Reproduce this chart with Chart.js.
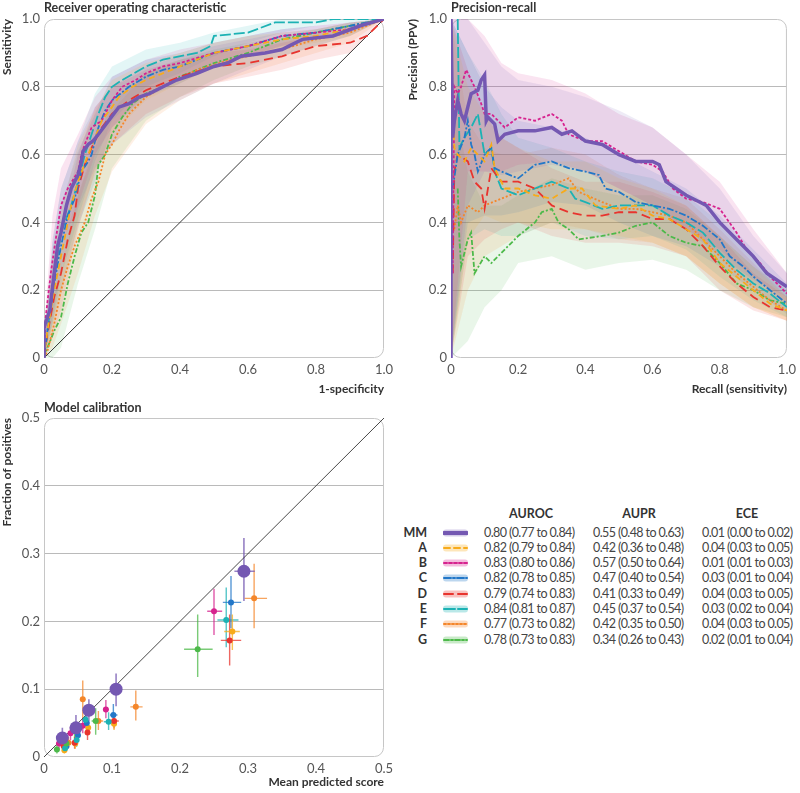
<!DOCTYPE html>
<html lang="en">
<head>
<meta charset="UTF-8">
<title>Model performance</title>
<script src="https://cdn.jsdelivr.net/npm/chart.js"></script>
<style>
  * { margin: 0; padding: 0; box-sizing: border-box; }
  body {
    width: 800px; height: 793px; position: relative; overflow: hidden;
    background: #fff; color: #333; font-family: Lato, 'Open Sans', sans-serif;
  }
  .panel { position: absolute; }
  #legend { position: absolute; left: 400px; top: 500px; width: 400px; height: 160px; }
  .hdr { position: absolute; top: 6px; width: 100px; margin-left: -50px; text-align: center; font-weight: 700; font-size: 12.5px; color: #333; }
  .row { position: absolute; left: 0; width: 400px; height: 15px; font-size: 12.5px; line-height: 15px; white-space: nowrap; }
  .row .lab { position: absolute; left: 0; width: 27px; text-align: right; font-weight: 700; }
  .row svg { position: absolute; left: 43px; top: 4px; }
  .row .val { position: absolute; letter-spacing: -0.6px; color: #444; }
</style>
</head>
<body>
  <canvas class="panel" id="roc" width="400" height="400" style="left:0;top:0"></canvas>
  <canvas class="panel" id="pr" width="400" height="400" style="left:400px;top:0"></canvas>
  <canvas class="panel" id="cal" width="400" height="393" style="left:0;top:400px"></canvas>
  <div id="legend"></div>

<script>
const MODELS = ['MM', 'A', 'B', 'C', 'D', 'E', 'F', 'G'];
const COLORS = { MM: '#7458b2', A: '#f7ab1b', B: '#d6228e', C: '#2277c8', D: '#e8342e', E: '#1cb2b4', F: '#f4862a', G: '#4db94a' };
const DASH = { MM: [], A: [6, 4], B: [3, 2], C: [7, 2, 2, 2], D: [9, 5], E: [11, 3], F: [2, 2], G: [5, 2, 2, 2] };

// legend table text
const aurocText = ['0.80 (0.77 to 0.84)', '0.82 (0.79 to 0.84)', '0.83 (0.80 to 0.86)', '0.82 (0.78 to 0.85)', '0.79 (0.74 to 0.83)', '0.84 (0.81 to 0.87)', '0.77 (0.73 to 0.82)', '0.78 (0.73 to 0.83)'];
const auprText = ['0.55 (0.48 to 0.63)', '0.42 (0.36 to 0.48)', '0.57 (0.50 to 0.64)', '0.47 (0.40 to 0.54)', '0.41 (0.33 to 0.49)', '0.45 (0.37 to 0.54)', '0.42 (0.35 to 0.50)', '0.34 (0.26 to 0.43)'];
const eceText = ['0.01 (0.00 to 0.02)', '0.04 (0.03 to 0.05)', '0.01 (0.01 to 0.03)', '0.03 (0.01 to 0.04)', '0.04 (0.03 to 0.05)', '0.03 (0.02 to 0.04)', '0.04 (0.03 to 0.05)', '0.02 (0.01 to 0.04)'];

const unitTicks = [0, 0.2, 0.4, 0.6, 0.8, 1.0];
const calTicks = [0, 0.1, 0.2, 0.3, 0.4, 0.5];

// ROC curves: [1-specificity, sensitivity]
const rocCurve = {
  MM: [[0,0],[0,0.09],[0.01,0.12],[0.017,0.14],[0.03,0.25],[0.04,0.33],[0.05,0.37],[0.066,0.45],[0.08,0.5],[0.1,0.54],[0.11,0.58],[0.115,0.61],[0.13,0.63],[0.144,0.64],[0.16,0.66],[0.19,0.7],[0.22,0.74],[0.25,0.75],[0.28,0.77],[0.31,0.78],[0.35,0.8],[0.39,0.82],[0.45,0.84],[0.5,0.86],[0.54,0.87],[0.58,0.89],[0.65,0.9],[0.7,0.91],[0.72,0.92],[0.76,0.94],[0.85,0.95],[0.93,0.98],[1,1]],
  A: [[0,0],[0.01,0.08],[0.03,0.2],[0.05,0.3],[0.07,0.4],[0.08,0.45],[0.1,0.52],[0.13,0.6],[0.15,0.65],[0.17,0.7],[0.2,0.74],[0.22,0.77],[0.26,0.8],[0.3,0.82],[0.35,0.84],[0.4,0.86],[0.45,0.88],[0.5,0.9],[0.6,0.92],[0.7,0.94],[0.8,0.95],[0.9,0.97],[1,1]],
  B: [[0,0],[0.005,0.12],[0.02,0.25],[0.03,0.32],[0.05,0.45],[0.07,0.5],[0.1,0.55],[0.11,0.6],[0.12,0.63],[0.14,0.68],[0.17,0.7],[0.2,0.76],[0.23,0.8],[0.27,0.82],[0.3,0.84],[0.35,0.86],[0.4,0.87],[0.5,0.9],[0.6,0.92],[0.7,0.95],[0.8,0.96],[0.9,0.97],[1,1]],
  C: [[0,0],[0.01,0.08],[0.03,0.22],[0.05,0.33],[0.07,0.42],[0.09,0.47],[0.11,0.55],[0.13,0.58],[0.14,0.6],[0.16,0.68],[0.18,0.73],[0.2,0.76],[0.25,0.8],[0.3,0.83],[0.35,0.85],[0.4,0.86],[0.5,0.9],[0.6,0.92],[0.7,0.95],[0.8,0.96],[0.9,0.98],[1,1]],
  D: [[0,0],[0.01,0.07],[0.03,0.18],[0.05,0.25],[0.07,0.35],[0.09,0.42],[0.1,0.5],[0.12,0.57],[0.14,0.62],[0.17,0.68],[0.2,0.72],[0.25,0.76],[0.3,0.79],[0.35,0.81],[0.4,0.83],[0.5,0.86],[0.6,0.87],[0.7,0.89],[0.8,0.92],[0.9,0.93],[0.95,0.95],[1,1]],
  E: [[0,0],[0.01,0.08],[0.03,0.23],[0.05,0.37],[0.08,0.45],[0.1,0.52],[0.12,0.6],[0.14,0.66],[0.16,0.72],[0.18,0.77],[0.2,0.8],[0.23,0.82],[0.3,0.86],[0.35,0.88],[0.45,0.9],[0.49,0.92],[0.5,0.95],[0.6,0.96],[0.68,0.99],[0.8,0.99],[0.85,1],[1,1]],
  F: [[0,0],[0.01,0.02],[0.03,0.1],[0.05,0.2],[0.07,0.27],[0.09,0.33],[0.12,0.4],[0.14,0.47],[0.16,0.52],[0.18,0.6],[0.2,0.63],[0.22,0.67],[0.25,0.72],[0.3,0.77],[0.35,0.8],[0.45,0.85],[0.55,0.88],[0.7,0.91],[0.8,0.94],[0.9,0.96],[1,1]],
  G: [[0,0],[0.01,0.03],[0.03,0.08],[0.05,0.12],[0.07,0.22],[0.09,0.3],[0.11,0.37],[0.13,0.4],[0.15,0.48],[0.16,0.57],[0.18,0.6],[0.2,0.66],[0.23,0.71],[0.26,0.75],[0.3,0.78],[0.35,0.8],[0.4,0.83],[0.5,0.87],[0.6,0.9],[0.7,0.94],[0.8,0.96],[0.9,0.98],[1,1]]
};

// ROC confidence bands, sampled at rocGrid
const rocGrid = [0, 0.025, 0.05, 0.1, 0.15, 0.2, 0.3, 0.4, 0.5, 0.6, 0.7, 0.8, 0.9, 1];
const rocLower = {
  MM: [0,0.12,0.26,0.44,0.56,0.63,0.71,0.76,0.81,0.85,0.89,0.92,0.95,1],
  A: [0,0.08,0.18,0.4,0.54,0.66,0.76,0.81,0.86,0.89,0.91,0.93,0.95,1],
  B: [0,0.18,0.33,0.45,0.6,0.68,0.78,0.83,0.86,0.89,0.92,0.94,0.96,1],
  C: [0,0.1,0.2,0.39,0.52,0.68,0.77,0.81,0.86,0.89,0.92,0.94,0.96,1],
  D: [0,0.06,0.14,0.38,0.55,0.63,0.72,0.77,0.81,0.83,0.85,0.88,0.9,1],
  E: [0,0.1,0.24,0.41,0.58,0.7,0.8,0.84,0.89,0.93,0.96,0.98,0.99,1],
  F: [0,0.03,0.1,0.25,0.42,0.55,0.69,0.76,0.81,0.84,0.87,0.9,0.93,1],
  G: [0,0,0.03,0.22,0.38,0.56,0.7,0.77,0.82,0.86,0.89,0.92,0.95,1]
};
const rocUpper = {
  MM: [0.05,0.35,0.5,0.64,0.74,0.8,0.86,0.89,0.92,0.94,0.96,0.97,0.99,1],
  A: [0.05,0.3,0.43,0.63,0.73,0.82,0.87,0.9,0.93,0.95,0.96,0.97,0.99,1],
  B: [0.08,0.42,0.56,0.66,0.77,0.83,0.88,0.91,0.93,0.95,0.97,0.98,0.99,1],
  C: [0.05,0.32,0.45,0.61,0.72,0.83,0.88,0.9,0.93,0.95,0.97,0.98,0.99,1],
  D: [0.05,0.27,0.38,0.6,0.74,0.8,0.85,0.88,0.9,0.91,0.93,0.95,0.96,1],
  E: [0.06,0.34,0.5,0.64,0.78,0.86,0.91,0.93,0.96,0.98,1,1,1,1],
  F: [0.04,0.2,0.32,0.48,0.64,0.73,0.84,0.87,0.9,0.92,0.94,0.96,0.98,1],
  G: [0.03,0.17,0.25,0.48,0.62,0.76,0.84,0.88,0.91,0.93,0.95,0.97,0.99,1]
};

// precision-recall curves: [recall, precision]
const prCurve = {
  MM: [[0,0],[0,1],[0.005,0.65],[0.01,0.7],[0.02,0.76],[0.03,0.72],[0.04,0.7],[0.05,0.74],[0.06,0.78],[0.08,0.79],[0.09,0.82],[0.1,0.835],[0.105,0.7],[0.11,0.71],[0.13,0.69],[0.14,0.64],[0.16,0.66],[0.2,0.67],[0.25,0.67],[0.3,0.68],[0.33,0.66],[0.36,0.67],[0.4,0.64],[0.45,0.63],[0.5,0.6],[0.55,0.58],[0.6,0.58],[0.62,0.57],[0.64,0.52],[0.7,0.48],[0.74,0.46],[0.76,0.45],[0.8,0.4],[0.84,0.36],[0.88,0.32],[0.9,0.3],[0.94,0.25],[0.97,0.23],[1,0.21]],
  A: [[0.005,0.75],[0.01,0.62],[0.02,0.6],[0.04,0.58],[0.06,0.62],[0.08,0.6],[0.1,0.58],[0.12,0.63],[0.13,0.56],[0.16,0.5],[0.2,0.5],[0.25,0.48],[0.3,0.47],[0.35,0.5],[0.39,0.5],[0.43,0.45],[0.5,0.44],[0.55,0.45],[0.6,0.42],[0.65,0.41],[0.7,0.38],[0.75,0.35],[0.8,0.28],[0.85,0.24],[0.9,0.2],[0.95,0.16],[1,0.14]],
  B: [[0.005,0.25],[0.01,0.8],[0.02,0.78],[0.03,0.8],[0.045,0.85],[0.06,0.82],[0.07,0.8],[0.09,0.75],[0.1,0.72],[0.12,0.72],[0.14,0.7],[0.16,0.68],[0.2,0.71],[0.25,0.7],[0.3,0.72],[0.33,0.7],[0.35,0.66],[0.4,0.64],[0.45,0.64],[0.5,0.61],[0.55,0.58],[0.6,0.57],[0.63,0.55],[0.66,0.5],[0.7,0.47],[0.75,0.46],[0.8,0.44],[0.85,0.37],[0.88,0.32],[0.92,0.28],[0.95,0.24],[1,0.19]],
  C: [[0.005,0.5],[0.02,0.6],[0.04,0.65],[0.05,0.7],[0.06,0.63],[0.07,0.6],[0.08,0.55],[0.1,0.6],[0.12,0.62],[0.13,0.56],[0.15,0.55],[0.2,0.53],[0.25,0.57],[0.3,0.58],[0.35,0.56],[0.4,0.55],[0.44,0.54],[0.46,0.5],[0.5,0.49],[0.55,0.46],[0.6,0.45],[0.65,0.44],[0.7,0.42],[0.75,0.39],[0.8,0.35],[0.83,0.3],[0.87,0.27],[0.9,0.24],[0.95,0.2],[1,0.16]],
  D: [[0.005,0.25],[0.01,0.55],[0.02,0.6],[0.05,0.58],[0.07,0.52],[0.09,0.5],[0.1,0.44],[0.12,0.56],[0.15,0.52],[0.2,0.52],[0.25,0.5],[0.3,0.45],[0.35,0.43],[0.4,0.42],[0.45,0.42],[0.5,0.43],[0.55,0.43],[0.6,0.41],[0.65,0.41],[0.7,0.38],[0.75,0.33],[0.8,0.27],[0.85,0.22],[0.9,0.18],[0.95,0.15],[1,0.14]],
  E: [[0.02,1],[0.025,0.62],[0.04,0.65],[0.06,0.68],[0.08,0.72],[0.09,0.66],[0.1,0.6],[0.12,0.62],[0.13,0.55],[0.15,0.5],[0.2,0.48],[0.25,0.5],[0.3,0.52],[0.35,0.5],[0.37,0.47],[0.4,0.46],[0.45,0.44],[0.5,0.45],[0.55,0.45],[0.6,0.45],[0.65,0.42],[0.7,0.4],[0.75,0.37],[0.8,0.31],[0.85,0.26],[0.9,0.22],[0.95,0.19],[1,0.15]],
  F: [[0.01,0.38],[0.02,0.45],[0.03,0.4],[0.05,0.45],[0.08,0.43],[0.1,0.45],[0.15,0.47],[0.2,0.49],[0.25,0.5],[0.3,0.51],[0.35,0.53],[0.38,0.49],[0.45,0.46],[0.5,0.44],[0.55,0.44],[0.6,0.43],[0.65,0.42],[0.7,0.4],[0.75,0.35],[0.8,0.3],[0.85,0.25],[0.9,0.21],[0.95,0.17],[1,0.14]],
  G: [[0.02,0.5],[0.025,0.35],[0.03,0.27],[0.05,0.35],[0.06,0.37],[0.07,0.25],[0.1,0.3],[0.12,0.28],[0.15,0.31],[0.2,0.36],[0.25,0.4],[0.27,0.43],[0.3,0.44],[0.32,0.4],[0.35,0.38],[0.38,0.35],[0.45,0.36],[0.5,0.37],[0.55,0.39],[0.6,0.4],[0.65,0.36],[0.7,0.34],[0.75,0.33],[0.8,0.28],[0.85,0.22],[0.9,0.2],[0.95,0.17],[1,0.16]]
};

// precision-recall bands, sampled at prGrid
const prGrid = [0, 0.05, 0.1, 0.15, 0.2, 0.3, 0.4, 0.5, 0.6, 0.7, 0.8, 0.9, 1];
const prLower = {
  MM: [0,0.45,0.55,0.54,0.55,0.57,0.55,0.5,0.45,0.38,0.3,0.23,0.18],
  A: [0,0.35,0.42,0.4,0.4,0.38,0.38,0.36,0.34,0.3,0.22,0.15,0.11],
  B: [0,0.55,0.55,0.55,0.57,0.58,0.55,0.5,0.45,0.38,0.32,0.24,0.16],
  C: [0,0.4,0.42,0.42,0.43,0.46,0.45,0.4,0.36,0.33,0.27,0.2,0.13],
  D: [0,0.3,0.35,0.38,0.4,0.36,0.34,0.34,0.33,0.3,0.2,0.14,0.11],
  E: [0,0.35,0.38,0.36,0.36,0.4,0.36,0.35,0.36,0.32,0.24,0.17,0.12],
  F: [0,0.2,0.3,0.33,0.36,0.4,0.38,0.35,0.34,0.3,0.22,0.15,0.11],
  G: [0,0.05,0.15,0.2,0.28,0.3,0.26,0.28,0.29,0.26,0.2,0.15,0.12]
};
const prUpper = {
  MM: [1,1,0.93,0.86,0.82,0.8,0.77,0.73,0.68,0.6,0.5,0.36,0.25],
  A: [1,0.8,0.72,0.65,0.62,0.58,0.58,0.53,0.5,0.45,0.36,0.27,0.18],
  B: [1,1,0.95,0.87,0.84,0.82,0.78,0.72,0.68,0.6,0.52,0.38,0.25],
  C: [1,0.9,0.8,0.74,0.7,0.68,0.65,0.6,0.55,0.5,0.42,0.32,0.22],
  D: [1,0.85,0.72,0.65,0.62,0.56,0.52,0.52,0.49,0.45,0.36,0.25,0.18],
  E: [1,0.9,0.82,0.72,0.65,0.62,0.58,0.55,0.53,0.48,0.4,0.3,0.2],
  F: [1,0.7,0.62,0.6,0.6,0.62,0.6,0.54,0.5,0.47,0.38,0.28,0.18],
  G: [0.8,0.55,0.45,0.45,0.48,0.53,0.5,0.48,0.48,0.44,0.36,0.27,0.2]
};

// calibration bins: [mean score, fraction positive, x low, x high, y low, y high]
const calBins = {
  MM: [[0.027,0.028,0.022,0.032,0.016,0.043],[0.047,0.043,0.042,0.052,0.028,0.062],[0.066,0.069,0.06,0.072,0.053,0.085],[0.106,0.1,0.1,0.113,0.075,0.123],[0.294,0.274,0.28,0.31,0.23,0.323]],
  A: [[0.03,0.01,0.027,0.033,0.005,0.017],[0.046,0.02,0.043,0.049,0.012,0.028],[0.065,0.043,0.062,0.068,0.033,0.053],[0.103,0.049,0.099,0.107,0.04,0.058],[0.277,0.185,0.265,0.288,0.158,0.21]],
  B: [[0.022,0.02,0.019,0.025,0.012,0.03],[0.039,0.035,0.036,0.042,0.025,0.045],[0.057,0.046,0.054,0.06,0.035,0.058],[0.091,0.07,0.088,0.095,0.057,0.084],[0.25,0.215,0.24,0.262,0.18,0.248]],
  C: [[0.033,0.016,0.03,0.036,0.008,0.025],[0.05,0.032,0.047,0.053,0.022,0.042],[0.063,0.05,0.06,0.066,0.04,0.062],[0.102,0.062,0.097,0.108,0.048,0.078],[0.275,0.228,0.263,0.29,0.19,0.267]],
  D: [[0.029,0.016,0.026,0.032,0.009,0.024],[0.045,0.021,0.042,0.048,0.012,0.03],[0.064,0.036,0.061,0.067,0.025,0.048],[0.103,0.053,0.097,0.11,0.042,0.064],[0.273,0.172,0.26,0.29,0.135,0.21]],
  E: [[0.031,0.013,0.028,0.034,0.006,0.02],[0.048,0.025,0.045,0.051,0.015,0.035],[0.061,0.055,0.058,0.064,0.045,0.066],[0.095,0.052,0.088,0.102,0.04,0.066],[0.268,0.202,0.255,0.286,0.162,0.25]],
  F: [[0.036,0.021,0.032,0.04,0.013,0.03],[0.057,0.085,0.054,0.06,0.055,0.113],[0.08,0.053,0.074,0.087,0.04,0.068],[0.135,0.074,0.127,0.145,0.054,0.098],[0.309,0.234,0.295,0.328,0.19,0.285]],
  G: [[0.019,0.011,0.016,0.022,0.005,0.018],[0.033,0.02,0.03,0.036,0.012,0.03],[0.045,0.04,0.042,0.048,0.028,0.052],[0.076,0.053,0.07,0.083,0.033,0.072],[0.226,0.159,0.206,0.248,0.118,0.21]]
};

Chart.defaults.font.family = 'Lato, "Open Sans", sans-serif';
Chart.defaults.color = '#4a4a4a';

function rgba(hex, a) {
  const n = parseInt(hex.slice(1), 16);
  return `rgba(${n >> 16},${(n >> 8) & 255},${n & 255},${a})`;
}
const pts = arr => arr.map(([x, y]) => ({ x, y }));

// rounded frame round the plot area
const framePlugin = {
  id: 'frame',
  beforeDatasetsDraw(chart) {
    const { ctx, chartArea: a } = chart;
    ctx.save();
    ctx.strokeStyle = '#c6c6c6';
    ctx.lineWidth = 1;
    ctx.beginPath();
    ctx.roundRect(a.left + 0.5, a.top + 0.5, a.width - 1, a.height - 1, 9);
    ctx.stroke();
    ctx.restore();
  }
};

// crosshair error bars for the calibration bins
const errorBarPlugin = {
  id: 'errorBars',
  beforeDatasetsDraw(chart) {
    const { ctx, scales: { x, y } } = chart;
    ctx.save();
    chart.data.datasets.forEach(ds => {
      if (!ds.errorBars) return;
      ctx.strokeStyle = rgba(ds.baseColor, 0.75);
      ctx.lineWidth = ds.barWidth;
      ds.errorBars.forEach(([cx, cy, xlo, xhi, ylo, yhi]) => {
        ctx.beginPath();
        ctx.moveTo(x.getPixelForValue(xlo), y.getPixelForValue(cy));
        ctx.lineTo(x.getPixelForValue(xhi), y.getPixelForValue(cy));
        ctx.moveTo(x.getPixelForValue(cx), y.getPixelForValue(ylo));
        ctx.lineTo(x.getPixelForValue(cx), y.getPixelForValue(yhi));
        ctx.stroke();
      });
    });
    ctx.restore();
  }
};

function scales(ticks, xTitle, yTitle, yWidth, xHeight, yTitlePad) {
  const max = ticks[ticks.length - 1];
  const fmt = v => (v === 0 ? '0' : v.toFixed(1));
  const tickFont = { size: 13 };
  const titleFont = { size: 12, weight: '700' };
  return {
    x: {
      type: 'linear', min: 0, max: max,
      afterBuildTicks: s => { s.ticks = ticks.map(v => ({ value: v })); },
      afterFit: s => { s.height = xHeight; },
      grid: { display: false, drawTicks: false },
      border: { display: false },
      ticks: { font: tickFont, padding: 4, maxRotation: 0, callback: fmt, color: '#555' },
      title: { display: true, text: xTitle, align: 'end', font: titleFont, color: '#333', padding: { top: 0, bottom: 4 } }
    },
    y: {
      type: 'linear', min: 0, max: max,
      afterBuildTicks: s => { s.ticks = ticks.map(v => ({ value: v })); },
      afterFit: s => { s.width = yWidth; },
      grid: {
        drawTicks: false, lineWidth: 1,
        color: c => (c.tick && (c.tick.value === 0 || c.tick.value === max) ? 'rgba(0,0,0,0)' : '#bababa')
      },
      border: { display: false },
      ticks: { font: tickFont, padding: 4, callback: fmt, color: '#555' },
      title: { display: true, text: yTitle, align: 'end', font: titleFont, color: '#333', padding: { top: yTitlePad, bottom: 0 } }
    }
  };
}

function curveDatasets(curves, grid, lower, upper) {
  const ds = [];
  MODELS.forEach(m => {
    const lowIndex = ds.length;
    ds.push({ data: grid.map((x, k) => ({ x, y: lower[m][k] })), borderWidth: 0, pointRadius: 0, fill: false, order: 20 });
    ds.push({ data: grid.map((x, k) => ({ x, y: upper[m][k] })), borderWidth: 0, pointRadius: 0,
      fill: lowIndex, backgroundColor: rgba(COLORS[m], 0.12), order: 20 });
  });
  MODELS.forEach(m => {
    ds.push({
      data: pts(curves[m]), borderColor: COLORS[m], borderWidth: m === 'MM' ? 3.5 : 1.8,
      borderDash: DASH[m], pointRadius: 0, fill: false, order: m === 'MM' ? 0 : 5
    });
  });
  return ds;
}

function lineChart(id, title, curves, grid, lower, upper, xTitle, yTitle, yWidth, rightPad, yTitlePad, diagonal) {
  const datasets = curveDatasets(curves, grid, lower, upper);
  if (diagonal) {
    datasets.push({ data: pts(diagonal), borderColor: '#222', borderWidth: 0.9, pointRadius: 0, fill: false, order: 10 });
  }
  return new Chart(document.getElementById(id), {
    type: 'line',
    data: { datasets },
    options: {
      responsive: false, animation: false, events: [],
      layout: { padding: { left: 0, right: rightPad, top: 0, bottom: 0 } },
      plugins: {
        legend: { display: false }, tooltip: { enabled: false },
        title: { display: true, text: title, align: 'start', fullSize: false, color: '#333',
          font: { size: 12.5, weight: '700' }, padding: { top: 0, bottom: 4 } }
      },
      scales: scales(unitTicks, xTitle, yTitle, yWidth, 42, yTitlePad)
    },
    plugins: [framePlugin]
  });
}

lineChart('roc', 'Receiver operating characteristic', rocCurve, rocGrid, rocLower, rocUpper,
  '1-specificity', 'Sensitivity', 44, 16, 0, [[0, 0], [1, 1]]);
lineChart('pr', 'Precision-recall', prCurve, prGrid, prLower, prUpper,
  'Recall (sensitivity)', 'Precision (PPV)', 51, 10, 6, null);

// calibration
const calSets = MODELS.slice().reverse().map(m => ({
  data: calBins[m].map(([x, y]) => ({ x, y })),
  errorBars: calBins[m], baseColor: COLORS[m], barWidth: m === 'MM' ? 1.6 : 1.4,
  backgroundColor: COLORS[m], borderWidth: 0,
  pointRadius: m === 'MM' ? 6.5 : 3, order: m === 'MM' ? 0 : 5
}));
calSets.push({ data: pts([[0, 0], [0.5, 0.5]]), showLine: true, borderColor: '#333', borderWidth: 0.9, pointRadius: 0, order: 10 });

new Chart(document.getElementById('cal'), {
  type: 'scatter',
  data: { datasets: calSets },
  options: {
    responsive: false, animation: false, events: [],
    layout: { padding: { left: 0, right: 16, top: 0, bottom: 0 } },
    plugins: {
      legend: { display: false }, tooltip: { enabled: false },
      title: { display: true, text: 'Model calibration', align: 'start', fullSize: false, color: '#333',
        font: { size: 12.5, weight: '700' }, padding: { top: 0, bottom: 3 } }
    },
    scales: scales(calTicks, 'Mean predicted score', 'Fraction of positives', 44, 36, 0)
  },
  plugins: [framePlugin, errorBarPlugin]
});

// legend table
const legend = document.getElementById('legend');
[['AUROC', 131], ['AUPR', 239], ['ECE', 347]].forEach(([t, cx]) => {
  const h = document.createElement('div');
  h.className = 'hdr';
  h.style.left = cx + 'px';
  h.textContent = t;
  legend.appendChild(h);
});
MODELS.forEach((m, i) => {
  const row = document.createElement('div');
  row.className = 'row';
  row.style.top = (24.5 + i * 15.3) + 'px';
  const w = m === 'MM' ? 4 : 2;
  row.innerHTML =
    `<span class="lab">${m}</span>` +
    `<svg width="25" height="8"><rect x="0" y="0.5" width="25" height="7" rx="3" fill="${rgba(COLORS[m], 0.3)}"/>` +
    `<line x1="1" y1="4" x2="24" y2="4" stroke="${COLORS[m]}" stroke-width="${w}" stroke-linecap="round" stroke-dasharray="${DASH[m].join(' ')}"/></svg>` +
    `<span class="val" style="left:84px">${aurocText[i]}</span>` +
    `<span class="val" style="left:193px">${auprText[i]}</span>` +
    `<span class="val" style="left:302px">${eceText[i]}</span>`;
  legend.appendChild(row);
});
</script>
</body>
</html>
